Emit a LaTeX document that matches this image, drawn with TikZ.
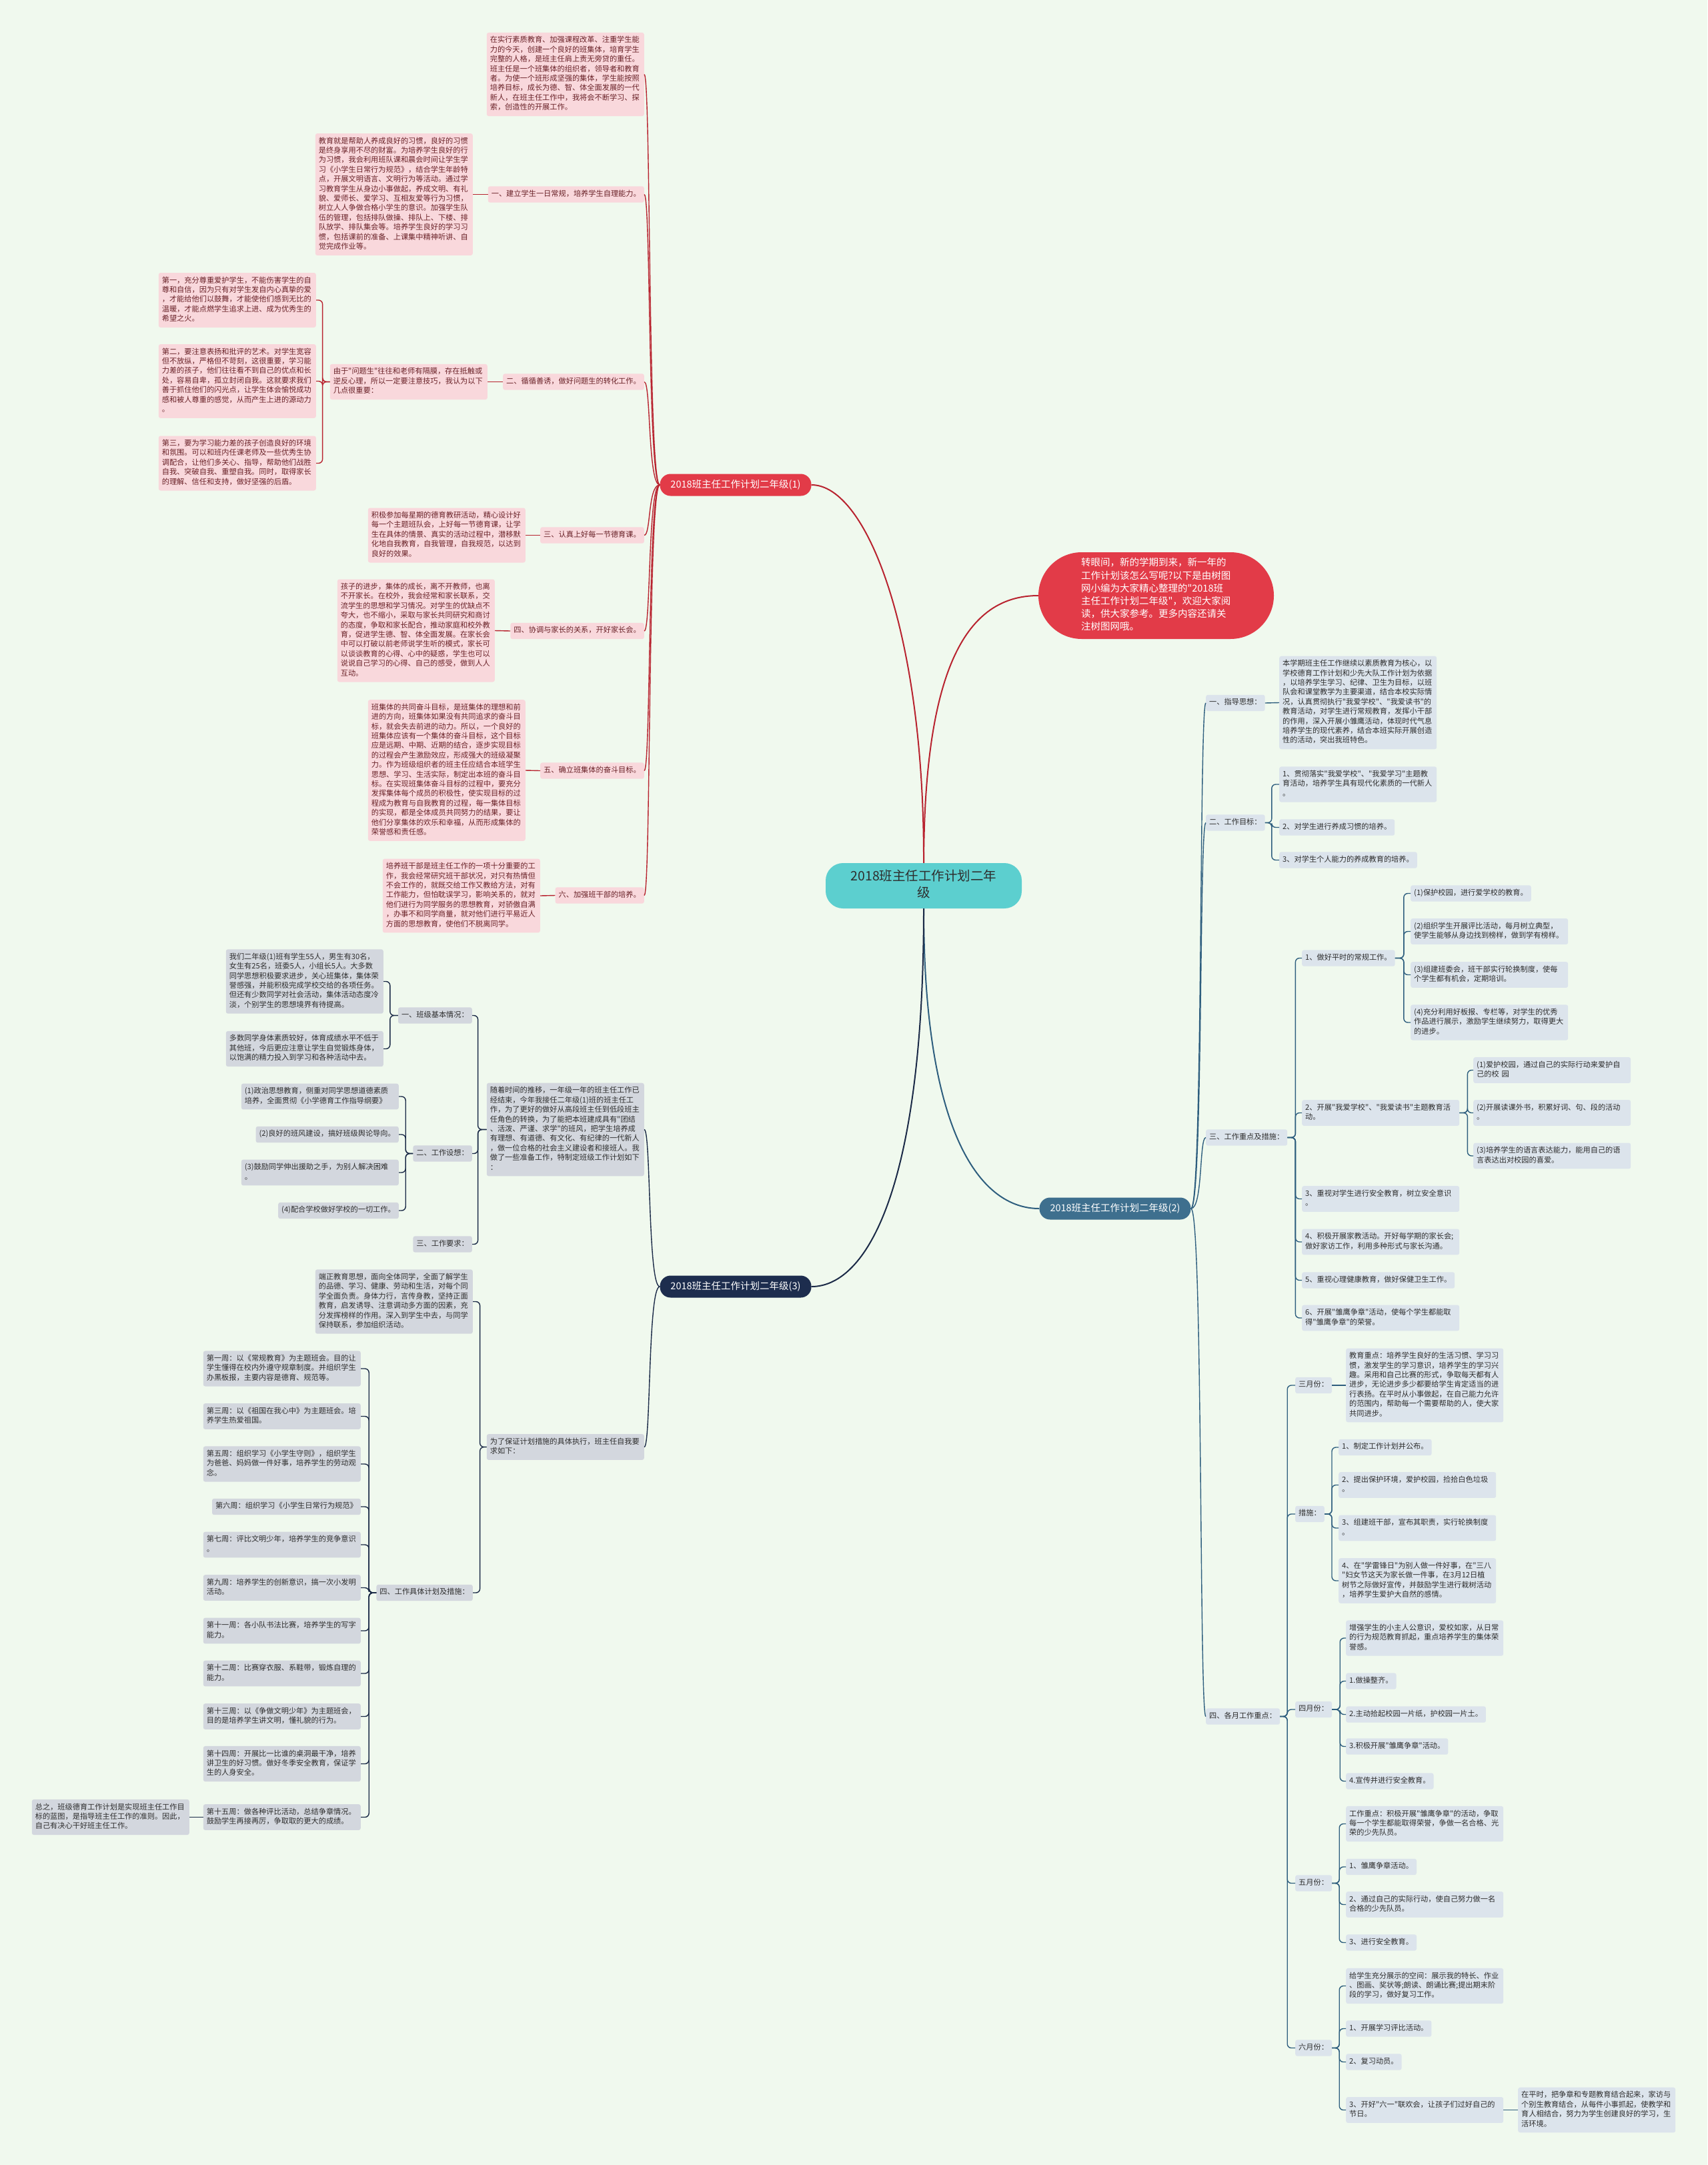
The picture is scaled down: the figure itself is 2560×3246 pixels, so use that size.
\documentclass[tikz,border=0pt]{standalone}
\usepackage{fontspec}
\setmainfont{Noto Sans CJK SC}[Ligatures=TeXOff]
\definecolor{bg}{HTML}{F0F9EE}
\definecolor{pinkfill}{HTML}{F9D8DC}
\definecolor{pinktext}{HTML}{6A2228}
\definecolor{redline}{HTML}{B8232F}
\definecolor{rednode}{HTML}{E23B48}
\definecolor{bluefill}{HTML}{DCE4EC}
\definecolor{blueline}{HTML}{2E5E7E}
\definecolor{bluenode}{HTML}{3E6F8E}
\definecolor{grayfill}{HTML}{D3D7DE}
\definecolor{navyline}{HTML}{1B2A47}
\definecolor{navynode}{HTML}{1D2D4E}
\definecolor{darktext}{HTML}{2E2E2E}
\definecolor{centerfill}{HTML}{5CCFCF}
\newcommand\myBR[4]{\draw[#1,rounded corners=6pt] (#2.east) -- ++(#4,0) |- (#3.west);}
\newcommand\myBL[4]{\draw[#1,rounded corners=6pt] (#2.west) -- ++(-#4,0) |- (#3.east);}
\newcommand\cvL[3]{\draw[#1] (#2.west) .. controls +(-18,0) and +(10,0) .. (#3.east);}
\newcommand\cvR[3]{\draw[#1] (#2.east) .. controls +(18,0) and +(-10,0) .. (#3.west);}
\tikzset{
  basebox/.style={rounded corners=3pt, inner xsep=5pt, inner ysep=5pt,
    font=\fontsize{11.2}{14.4}\selectfont,
    execute at begin node=\strut, execute at end node=\strut},
  pk/.style={basebox, fill=pinkfill, text=pinktext},
  pkw/.style={pk, text width=226pt, align=left},
  bl/.style={basebox, fill=bluefill, text=darktext},
  blw/.style={bl, text width=226pt, align=left},
  gy/.style={basebox, fill=grayfill, text=darktext},
  gyw/.style={gy, text width=226pt, align=left},
  rl/.style={redline, line width=1.4pt},
  bln/.style={blueline, line width=1.4pt},
  nvl/.style={navyline, line width=1.4pt},
  pill/.style={rounded corners=16pt, minimum height=33pt, inner xsep=16pt, inner ysep=0pt,
    font=\fontsize{14.5}{18}\selectfont, text=white},
}
\begin{document}
\begin{tikzpicture}[x=1pt,y=-1pt]
\fill[bg] (0,0) rectangle (2560,3246);
\useasboundingbox (0,0) rectangle (2560,3246);

% ---------- centre and main nodes ----------
\node[fill=centerfill, rounded corners=26pt, text width=240pt, align=center, inner xsep=27pt, inner ysep=9pt,
  font=\fontsize{19.5}{25}\selectfont, text=darktext, execute at begin node=\strut, execute at end node=\strut]
  (C) at (1385,1328) {2018班主任工作计划二年\\级};

\node[fill=rednode, rounded corners=65pt, text width=225pt, align=left, inner xsep=64pt, inner ysep=7.4pt,
  font=\fontsize{14.5}{19.2}\selectfont, text=white, execute at begin node=\strut, execute at end node=\strut]
  (I) at (1733.5,893) {转眼间，新的学期到来，新一年的\\工作计划该怎么写呢?以下是由树图\\网小编为大家精心整理的"2018班\\主任工作计划二年级"，欢迎大家阅\\读，供大家参考。更多内容还请关\\注树图网哦。};

\node[pill, fill=rednode] (R1) at (1103,727) {2018班主任工作计划二年级(1)};
\node[pill, fill=bluenode] (R2) at (1672,1812) {2018班主任工作计划二年级(2)};
\node[pill, fill=navynode] (R3) at (1103,1929) {2018班主任工作计划二年级(3)};

\draw[redline, line width=2pt] (C.north) .. controls (1386,950) and (1300,727) .. (R1.east);
\draw[redline, line width=2pt] (C.north) .. controls (1386,1000) and (1450,893) .. (I.west);
\draw[blueline, line width=2pt] (C.south) .. controls (1385,1700) and (1470,1812) .. (R2.west);
\draw[navyline, line width=2pt] (C.south) .. controls (1385,1780) and (1300,1929) .. (R3.east);

% ---------- branch (1) ----------
\node[pkw,anchor=east] (T0) at (966,111.5) {在实行素质教育、加强课程改革、注重学生能\\力的今天，创建一个良好的班集体，培育学生\\完整的人格，是班主任肩上责无旁贷的重任。\\班主任是一个班集体的组织者，领导者和教育\\者。为使一个班形成坚强的集体，学生能按照\\培养目标，成长为德、智、体全面发展的一代\\新人，在班主任工作中，我将会不断学习、探\\索，创造性的开展工作。};

\node[pk,anchor=east] (L1) at (966,291.5) {一、建立学生一日常规，培养学生自理能力。};
\node[pkw,anchor=east] (E1) at (709,291.5) {教育就是帮助人养成良好的习惯，良好的习惯\\是终身享用不尽的财富。为培养学生良好的行\\为习惯，我会利用班队课和晨会时间让学生学\\习《小学生日常行为规范》，结合学生年龄特\\点，开展文明语言、文明行为等活动。通过学\\习教育学生从身边小事做起，养成文明、有礼\\貌、爱师长、爱学习、互相友爱等行为习惯，\\树立人人争做合格小学生的意识。加强学生队\\伍的管理，包括排队做操、排队上、下楼、排\\队放学、排队集会等。培养学生良好的学习习\\惯，包括课前的准备、上课集中精神听讲、自\\觉完成作业等。};

\node[pk,anchor=east] (L2) at (966,572.5) {二、循循善诱，做好问题生的转化工作。};
\node[pkw,anchor=east] (M2) at (731,572.5) {由于"问题生"往往和老师有隔膜，存在抵触或\\逆反心理，所以一定要注意技巧，我认为以下\\几点很重要：};
\node[pkw,anchor=east] (F1) at (474,450) {第一，充分尊重爱护学生，不能伤害学生的自\\尊和自信，因为只有对学生发自内心真挚的爱\\，才能给他们以鼓舞，才能使他们感到无比的\\温暖，才能点燃学生追求上进、成为优秀生的\\希望之火。};
\node[pkw,anchor=east] (F2) at (474,571.5) {第二，要注意表扬和批评的艺术。对学生宽容\\但不放纵，严格但不苛刻，这很重要，学习能\\力差的孩子，他们往往看不到自己的优点和长\\处，容易自卑，孤立封闭自我。这就要求我们\\善于抓住他们的闪光点，让学生体会愉悦成功\\感和被人尊重的感觉，从而产生上进的源动力\\。};
\node[pkw,anchor=east] (F3) at (474,694.5) {第三，要为学习能力差的孩子创造良好的环境\\和氛围。可以和班内任课老师及一些优秀生协\\调配合，让他们多关心、指导，帮助他们战胜\\自我、突破自我、重塑自我。同时，取得家长\\的理解、信任和支持，做好坚强的后盾。};

\node[pk,anchor=east] (L3) at (966,802.5) {三、认真上好每一节德育课。};
\node[pkw,anchor=east] (B3) at (788,802.5) {积极参加每星期的德育教研活动，精心设计好\\每一个主题班队会，上好每一节德育课，让学\\生在具体的情景、真实的活动过程中，潜移默\\化地自我教育，自我管理，自我规范，以达到\\良好的效果。};

\node[pk,anchor=east] (L4) at (966,946) {四、协调与家长的关系，开好家长会。};
\node[pkw,anchor=east] (B4) at (742,945.5) {孩子的进步，集体的成长，离不开教师，也离\\不开家长。在校外，我会经常和家长联系，交\\流学生的思想和学习情况。对学生的优缺点不\\夸大，也不缩小，采取与家长共同研究和商讨\\的态度，争取和家长配合，推动家庭和校外教\\育，促进学生德、智、体全面发展。在家长会\\中可以打破以前老师说学生听的模式，家长可\\以谈谈教育的心得、心中的疑惑，学生也可以\\说说自己学习的心得、自己的感受，做到人人\\互动。};

\node[pk,anchor=east] (L5) at (966,1155.5) {五、确立班集体的奋斗目标。};
\node[pkw,anchor=east] (B5) at (788,1155) {班集体的共同奋斗目标，是班集体的理想和前\\进的方向，班集体如果没有共同追求的奋斗目\\标，就会失去前进的动力。所以，一个良好的\\班集体应该有一个集体的奋斗目标，这个目标\\应是远期、中期、近期的结合，逐步实现目标\\的过程会产生激励效应，形成强大的班级凝聚\\力。作为班级组织者的班主任应结合本班学生\\思想、学习、生活实际，制定出本班的奋斗目\\标。在实现班集体奋斗目标的过程中，要充分\\发挥集体每个成员的积极性，使实现目标的过\\程成为教育与自我教育的过程，每一集体目标\\的实现，都是全体成员共同努力的结果，要让\\他们分享集体的欢乐和幸福，从而形成集体的\\荣誉感和责任感。};

\node[pk,anchor=east] (L6) at (966,1342.5) {六、加强班干部的培养。};
\node[pkw,anchor=east] (B6) at (810,1343) {培养班干部是班主任工作的一项十分重要的工\\作，我会经常研究班干部状况，对只有热情但\\不会工作的，就既交给工作又教给方法，对有\\工作能力，但怕耽误学习，影响关系的，就对\\他们进行为同学服务的思想教育，对骄傲自满\\，办事不和同学商量，就对他们进行平易近人\\方面的思想教育，使他们不脱离同学。};

\foreach \n in {T0,L1,L2,L3,L4,L5,L6} {\cvL{rl}{R1}{\n}}
\draw[rl] (E1.east) -- (L1.west);
\draw[rl] (M2.east) -- (L2.west);
\draw[rl] (B3.east) -- (L3.west);
\draw[rl] (B4.east) -- (L4.west);
\draw[rl] (B5.east) -- (L5.west);
\draw[rl] (B6.east) -- (L6.west);
\foreach \n in {F1,F2,F3} {\myBL{rl}{M2}{\n}{11}}

% ---------- branch (3) ----------
\node[gyw,anchor=east] (S1) at (966,1693.5) {随着时间的推移，一年级一年的班主任工作已\\经结束，今年我接任二年级(1)班的班主任工\\作，为了更好的做好从高段班主任到低段班主\\任角色的转换，为了能把本班建成具有"团结\\、活泼、严谨、求学"的班风，把学生培养成\\有理想、有道德、有文化、有纪律的一代新人\\，做一位合格的社会主义建设者和接班人。我\\做了一些准备工作，特制定班级工作计划如下\\：};
\node[gy,anchor=east] (N1) at (708,1522.5) {一、班级基本情况：};
\node[gy,anchor=east] (N2) at (708,1729.5) {二、工作设想：};
\node[gy,anchor=east] (N3) at (708,1865.5) {三、工作要求：};
\node[gyw,anchor=east] (N1a) at (575,1471.5) {我们二年级(1)班有学生55人，男生有30名，\\女生有25名，班委5人，小组长5人。大多数\\同学思想积极要求进步，关心班集体，集体荣\\誉感强，并能积极完成学校交给的各项任务。\\但还有少数同学对社会活动，集体活动态度冷\\淡，个别学生的思想境界有待提高。};
\node[gyw,anchor=east] (N1b) at (575,1572.5) {多数同学身体素质较好，体育成绩水平不低于\\其他班，今后更应注意让学生自觉锻炼身体，\\以饱满的精力投入到学习和各种活动中去。};
\node[gyw,anchor=east] (N2a) at (598,1644) {(1)政治思想教育，侧重对同学思想道德素质\\培养，全面贯彻《小学德育工作指导纲要》};
\node[gy,anchor=east] (N2b) at (598,1701) {(2)良好的班风建设，搞好班级舆论导向。};
\node[gyw,anchor=east] (N2c) at (598,1758) {(3)鼓励同学伸出援助之手，为别人解决困难\\。};
\node[gy,anchor=east] (N2d) at (598,1815) {(4)配合学校做好学校的一切工作。};

\node[gyw,anchor=east] (S2) at (966,2169.5) {为了保证计划措施的具体执行，班主任自我要\\求如下：};
\node[gyw,anchor=east] (S2a) at (709,1951.5) {端正教育思想，面向全体同学，全面了解学生\\的品德、学习、健康、劳动和生活，对每个同\\学全面负责。身体力行，言传身教，坚持正面\\教育，启发诱导、注意调动多方面的因素，充\\分发挥榜样的作用。深入到学生中去，与同学\\保持联系，参加组织活动。};
\node[gy,anchor=east] (S2b) at (709,2388) {四、工作具体计划及措施：};
\node[gyw,anchor=east] (W1) at (541,2052) {第一周：以《常规教育》为主题班会。目的让\\学生懂得在校内外遵守规章制度。并组织学生\\办黑板报，主要内容是德育、规范等。};
\node[gyw,anchor=east] (W3) at (541,2123.5) {第三周：以《祖国在我心中》为主题班会。培\\养学生热爱祖国。};
\node[gyw,anchor=east] (W5) at (541,2195) {第五周：组织学习《小学生守则》，组织学生\\为爸爸、妈妈做一件好事，培养学生的劳动观\\念。};
\node[gy,anchor=east] (W6) at (541,2259) {第六周：组织学习《小学生日常行为规范》};
\node[gyw,anchor=east] (W7) at (541,2316) {第七周：评比文明少年，培养学生的竞争意识\\。};
\node[gyw,anchor=east] (W9) at (541,2380.5) {第九周：培养学生的创新意识，搞一次小发明\\活动。};
\node[gyw,anchor=east] (W11) at (541,2445) {第十一周：各小队书法比赛，培养学生的写字\\能力。};
\node[gyw,anchor=east] (W12) at (541,2509) {第十二周：比赛穿衣服、系鞋带，锻炼自理的\\能力。};
\node[gyw,anchor=east] (W13) at (541,2573.5) {第十三周：以《争做文明少年》为主题班会，\\目的是培养学生讲文明，懂礼貌的行为。};
\node[gyw,anchor=east] (W14) at (541,2644.5) {第十四周：开展比一比谁的桌洞最干净，培养\\讲卫生的好习惯。做好冬季安全教育，保证学\\生的人身安全。};
\node[gyw,anchor=east] (W15) at (541,2724.5) {第十五周：做各种评比活动，总结争章情况。\\鼓励学生再接再厉，争取取的更大的成绩。};
\node[gyw,anchor=east] (Z) at (284,2724.5) {总之，班级德育工作计划是实现班主任工作目\\标的蓝图，是指导班主任工作的准则。因此，\\自己有决心干好班主任工作。};

\cvL{nvl}{R3}{S1}
\cvL{nvl}{R3}{S2}
\foreach \n in {N1,N2,N3} {\myBL{nvl}{S1}{\n}{13}}
\foreach \n in {N1a,N1b} {\myBL{nvl}{N1}{\n}{12}}
\foreach \n in {N2a,N2b,N2c,N2d} {\myBL{nvl}{N2}{\n}{11}}
\foreach \n in {S2a,S2b} {\myBL{nvl}{S2}{\n}{10}}
\foreach \n in {W1,W3,W5,W6,W7,W9,W11,W12,W13,W14,W15} {\myBL{nvl}{S2b}{\n}{11}}
\draw[nvl] (W15.west) -- (Z.east);

% ---------- branch (2) ----------
\node[bl,anchor=west] (A1) at (1808,1054) {一、指导思想：};
\node[blw,anchor=west] (A1a) at (1918,1053.5) {本学期班主任工作继续以素质教育为核心，以\\学校德育工作计划和少先大队工作计划为依据\\，以培养学生学习、纪律、卫生为目标，以班\\队会和课堂教学为主要渠道，结合本校实际情\\况，认真贯彻执行"我爱学校"、"我爱读书"的\\教育活动，对学生进行常规教育，发挥小干部\\的作用，深入开展小雏鹰活动，体现时代气息\\培养学生的现代素养，结合本班实际开展创造\\性的活动，突出我班特色。};
\node[bl,anchor=west] (A2) at (1808,1233.5) {二、工作目标：};
\node[blw,anchor=west] (A2a) at (1918,1176) {1、贯彻落实"我爱学校"、"我爱学习"主题教\\育活动，培养学生具有现代化素质的一代新人\\。};
\node[bl,anchor=west] (A2b) at (1918,1240.5) {2、对学生进行养成习惯的培养。};
\node[bl,anchor=west] (A2c) at (1918,1289.5) {3、对学生个人能力的养成教育的培养。};

\node[bl,anchor=west] (A3) at (1808,1705.5) {三、工作重点及措施：};
\node[bl,anchor=west] (A31) at (1952,1436.5) {1、做好平时的常规工作。};
\node[bl,anchor=west] (A31a) at (2115,1339.5) {(1)保护校园，进行爱学校的教育。};
\node[blw,anchor=west] (A31b) at (2115,1396.5) {(2)组织学生开展评比活动，每月树立典型，\\使学生能够从身边找到榜样，做到学有榜样。};
\node[blw,anchor=west] (A31c) at (2115,1461.5) {(3)组建班委会，班干部实行轮换制度，使每\\个学生都有机会，定期培训。};
\node[blw,anchor=west] (A31d) at (2115,1533) {(4)充分利用好板报、专栏等，对学生的优秀\\作品进行展示，激励学生继续努力，取得更大\\的进步。};
\node[blw,anchor=west] (A32) at (1952,1668.5) {2、开展"我爱学校"、"我爱读书"主题教育活\\动。};
\node[blw,anchor=west] (A32a) at (2209,1604.5) {(1)爱护校园，通过自己的实际行动来爱护自\\己的校 园};
\node[blw,anchor=west] (A32b) at (2209,1668.5) {(2)开展读课外书，积累好词、句、段的活动\\。};
\node[blw,anchor=west] (A32c) at (2209,1733) {(3)培养学生的语言表达能力，能用自己的语\\言表达出对校园的喜爱。};
\node[blw,anchor=west] (A33) at (1952,1797.5) {3、重视对学生进行安全教育，树立安全意识\\。};
\node[blw,anchor=west] (A34) at (1952,1862) {4、积极开展家教活动。开好每学期的家长会;\\做好家访工作，利用多种形式与家长沟通。};
\node[bl,anchor=west] (A35) at (1952,1919.5) {5、重视心理健康教育，做好保健卫生工作。};
\node[blw,anchor=west] (A36) at (1952,1976) {6、开展"雏鹰争章"活动，使每个学生都能取\\得"雏鹰争章"的荣誉。};

\node[bl,anchor=west] (A4) at (1808,2573.5) {四、各月工作重点：};
\node[bl,anchor=west] (M3) at (1942,2077) {三月份：};
\node[blw,anchor=west] (M3a) at (2018,2077) {教育重点：培养学生良好的生活习惯、学习习\\惯，激发学生的学习意识，培养学生的学习兴\\趣。采用和自己比赛的形式，争取每天都有人\\进步，无论进步多少都要给学生肯定适当的进\\行表扬。在平时从小事做起，在自己能力允许\\的范围内，帮助每一个需要帮助的人，使大家\\共同进步。};
\node[bl,anchor=west] (MS) at (1942,2270) {措施：};
\node[bl,anchor=west] (MS1) at (2007,2170) {1、制定工作计划并公布。};
\node[blw,anchor=west] (MS2) at (2007,2226.5) {2、提出保护环境，爱护校园，捡拾白色垃圾\\。};
\node[blw,anchor=west] (MS3) at (2007,2291) {3、组建班干部，宣布其职责，实行轮换制度\\。};
\node[blw,anchor=west] (MS4) at (2007,2370) {4、在"学雷锋日"为别人做一件好事，在"三八\\"妇女节这天为家长做一件事，在3月12日植\\树节之际做好宣传，并鼓励学生进行栽树活动\\，培养学生爱护大自然的感情。};
\node[bl,anchor=west] (M4) at (1942,2563) {四月份：};
\node[blw,anchor=west] (M4a) at (2018,2456) {增强学生的小主人公意识，爱校如家，从日常\\的行为规范教育抓起，重点培养学生的集体荣\\誉感。};
\node[bl,anchor=west] (M4b) at (2018,2520.5) {1.做操整齐。};
\node[bl,anchor=west] (M4c) at (2018,2570.5) {2.主动拾起校园一片纸，护校园一片土。};
\node[bl,anchor=west] (M4d) at (2018,2618.5) {3.积极开展"雏鹰争章"活动。};
\node[bl,anchor=west] (M4e) at (2018,2670.5) {4.宣传并进行安全教育。};
\node[bl,anchor=west] (M5) at (1942,2823.5) {五月份：};
\node[blw,anchor=west] (M5a) at (2018,2734.5) {工作重点：积极开展"雏鹰争章"的活动，争取\\每一个学生都能取得荣誉，争做一名合格、光\\荣的少先队员。};
\node[bl,anchor=west] (M5b) at (2018,2799) {1、雏鹰争章活动。};
\node[blw,anchor=west] (M5c) at (2018,2855.5) {2、通过自己的实际行动，使自己努力做一名\\合格的少先队员。};
\node[bl,anchor=west] (M5d) at (2018,2912.5) {3、进行安全教育。};
\node[bl,anchor=west] (M6) at (1942,3070.5) {六月份：};
\node[blw,anchor=west] (M6a) at (2018,2977.5) {给学生充分展示的空间：展示我的特长、作业\\、图画、奖状等;朗读、朗诵比赛;提出期末阶\\段的学习，做好复习工作。};
\node[bl,anchor=west] (M6b) at (2018,3041.5) {1、开展学习评比活动。};
\node[bl,anchor=west] (M6c) at (2018,3091.5) {2、复习动员。};
\node[blw,anchor=west] (M6d) at (2018,3163.5) {3、开好"六一"联欢会，让孩子们过好自己的\\节日。};
\node[blw,anchor=west] (M6e) at (2276,3163.5) {在平时，把争章和专题教育结合起来，家访与\\个别生教育结合，从每件小事抓起，使教学和\\育人相结合，努力为学生创建良好的学习，生\\活环境。};

\foreach \n in {A1,A2,A3,A4} {\cvR{bln}{R2}{\n}}
\draw[bln] (A1.east) -- (A1a.west);
\foreach \n in {A2a,A2b,A2c} {\myBR{bln}{A2}{\n}{10}}
\foreach \n in {A31,A32,A33,A34,A35,A36} {\myBR{bln}{A3}{\n}{12}}
\foreach \n in {A31a,A31b,A31c,A31d} {\myBR{bln}{A31}{\n}{13}}
\foreach \n in {A32a,A32b,A32c} {\myBR{bln}{A32}{\n}{12}}
\foreach \n in {M3,MS,M4,M5,M6} {\myBR{bln}{A4}{\n}{11}}
\draw[bln] (M3.east) -- (M3a.west);
\foreach \n in {MS1,MS2,MS3,MS4} {\myBR{bln}{MS}{\n}{11}}
\foreach \n in {M4a,M4b,M4c,M4d,M4e} {\myBR{bln}{M4}{\n}{12}}
\foreach \n in {M5a,M5b,M5c,M5d} {\myBR{bln}{M5}{\n}{11}}
\foreach \n in {M6a,M6b,M6c,M6d} {\myBR{bln}{M6}{\n}{11}}
\draw[bln] (M6d.east) -- (M6e.west);
\end{tikzpicture}
\end{document}
